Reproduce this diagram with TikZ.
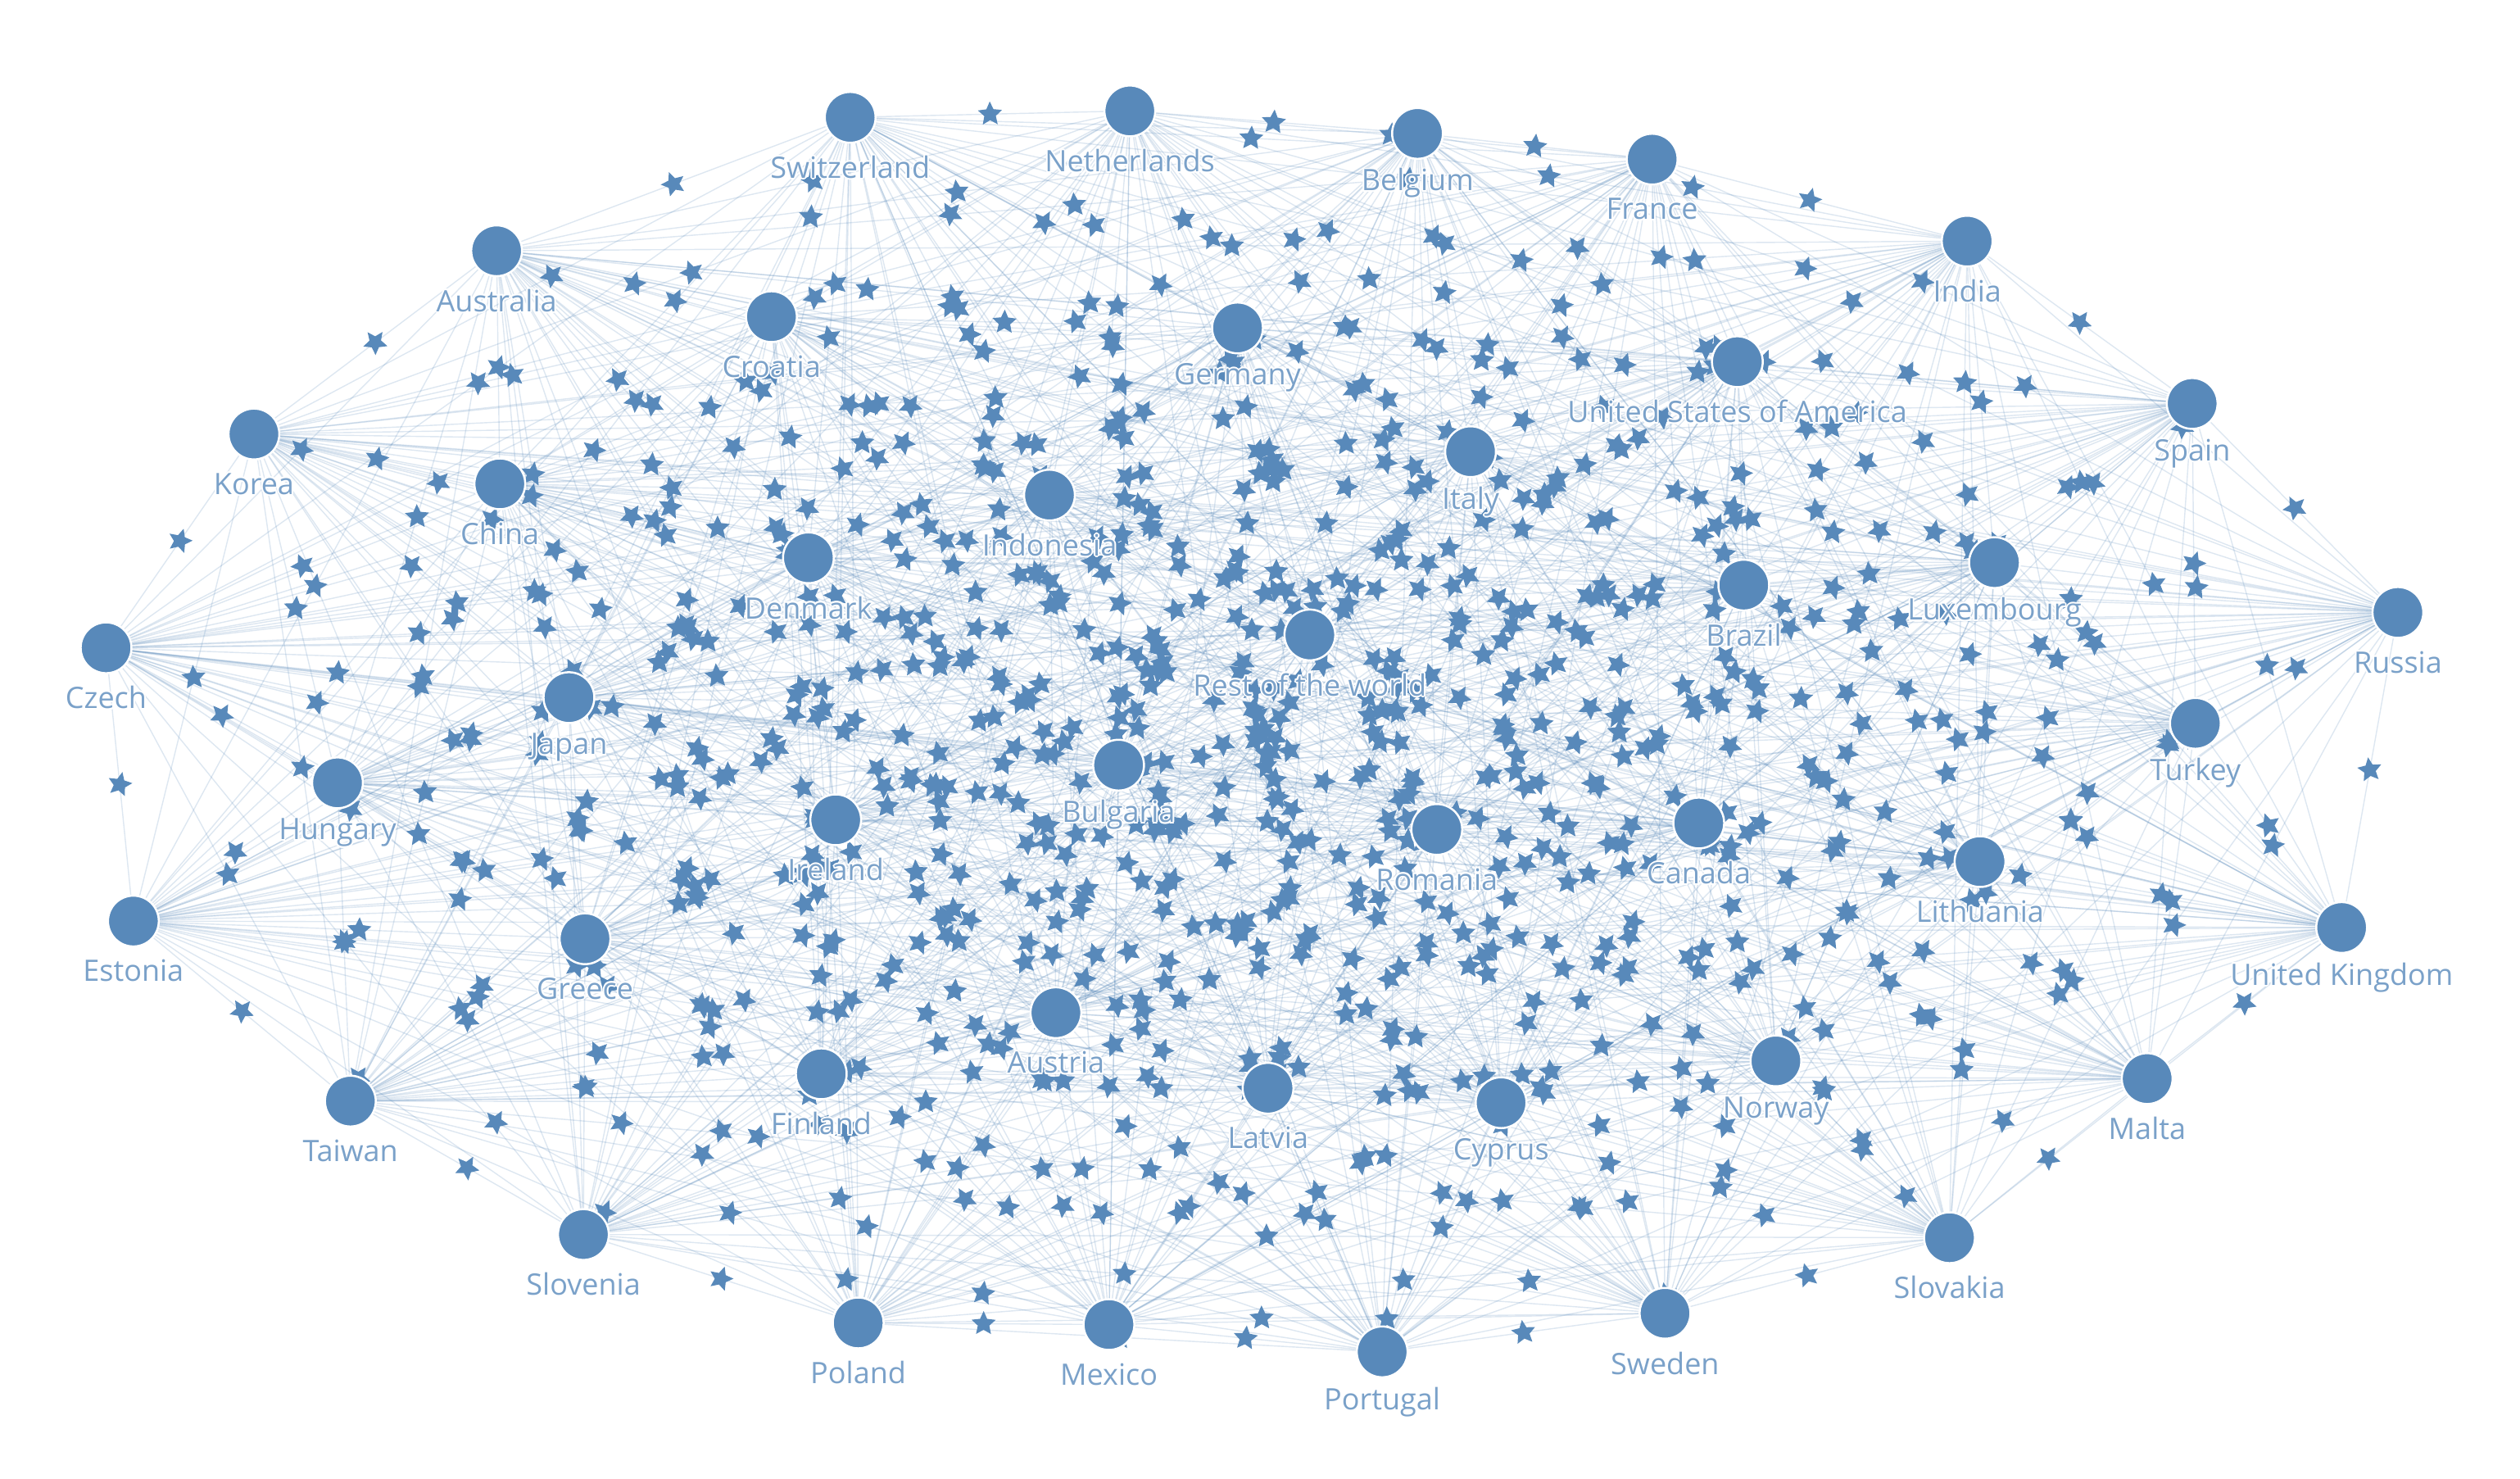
\documentclass[tikz,border=0pt]{standalone}
\usepackage{fontspec}
\setmainfont{Open Sans}
\usetikzlibrary{shapes.geometric}
\definecolor{nodeblue}{RGB}{88,137,186}
\definecolor{labelblue}{RGB}{122,161,201}
\pgfdeclarelayer{bg}\pgfdeclarelayer{mid}\pgfsetlayers{bg,mid,main}
\begin{document}
\begin{tikzpicture}[x=1.9617pt,y=-1.9617pt,
 country/.style={circle,fill=nodeblue,draw=white,line width=2.5pt,minimum size=62pt,inner sep=0pt},
 edge/.style={draw=nodeblue,draw opacity=0.2,line width=1.4pt},
 starmark/.style={star,star points=5,star point ratio=2.1,fill=nodeblue,draw=none,minimum size=31pt,inner sep=0pt,sloped,opacity=1},
 lab/.style={font=\fontsize{36}{42}\selectfont,text=labelblue,inner sep=0pt}]
\begin{pgfonlayer}{bg}
\fill[white] (0,0) rectangle (1568,920);
\end{pgfonlayer}
\useasboundingbox (0,0) rectangle (1568,920);
\foreach \n/\x/\y/\t in {
1/529/73/Switzerland, 2/703/69/Netherlands, 3/882/83/Belgium, 4/1028/99/France,
5/1224/150/India, 6/309/156/Australia, 7/480/197/Croatia, 8/770/204/Germany,
9/1081/225/United States of America, 10/1364/251/Spain, 11/158/270/Korea,
12/311/301/China, 13/653/308/Indonesia, 14/915/281/Italy, 15/503/347/Denmark,
16/1085/364/Brazil, 17/1241/350/Luxembourg, 18/1492/381/Russia, 19/66/403/Czech,
20/354/434/Japan, 21/815/395/Rest of the world, 22/1366/450/Turkey,
23/210/487/Hungary, 24/696/476/Bulgaria, 25/520/510/Ireland, 26/894/516/Romania,
27/1057/512/Canada, 28/1232/536/Lithuania, 29/1457/577/United Kingdom,
30/83/573/Estonia, 31/364/584/Greece, 32/657/630/Austria, 33/218/685/Taiwan,
34/511/668/Finland, 35/789/677/Latvia, 36/934/686/Cyprus, 37/1105/660/Norway,
38/1336/671/Malta, 39/363/768/Slovenia, 40/1213/770/Slovakia, 41/534/823/Poland,
42/690/824/Mexico, 43/860/841/Portugal, 44/1036/817/Sweden}{
  \node[country] (n\n) at (\x,\y) {};
  \foreach \dx/\dy [count=\h] in {1/0,-1/0,0/1,0/-1,0.7/0.7,-0.7/0.7,0.7/-0.7,-0.7/-0.7}
    \node[lab,text=white] (h\n-\h) at (\x+\dx,\y+31+\dy) {\t};
  \node[lab] (l\n) at (\x,\y+31) {\t};
}
\begin{pgfonlayer}{bg}
\foreach \i in {1,...,43}{
  \pgfmathtruncatemacro\k{\i+1}
  \foreach \j in {\k,...,44}{\draw[edge] (n\i.center) -- (n\j.center);}
}
\end{pgfonlayer}
\begin{pgfonlayer}{mid}
\foreach \i in {1,...,43}{
  \pgfmathtruncatemacro\k{\i+1}
  \foreach \j in {\k,...,44}{\path (n\i.center) -- node[starmark] (s\i-\j) {} (n\j.center);}
}
\end{pgfonlayer}
\end{tikzpicture}
\end{document}
